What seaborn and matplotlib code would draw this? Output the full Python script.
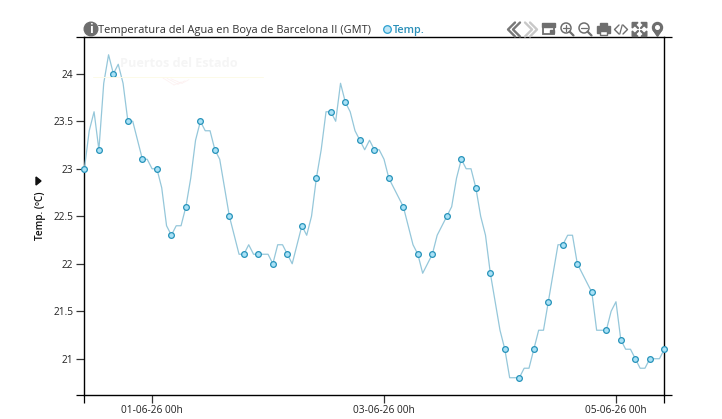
import numpy as np
import pandas as pd
import matplotlib
matplotlib.use("Agg")
import matplotlib.pyplot as plt
import matplotlib.dates as mdates
from matplotlib.patches import Circle, Rectangle, Polygon
from matplotlib.lines import Line2D
import seaborn as sns

# Hourly water temperature at the buoy (deg C)
temperature = [
    23.0, 23.4, 23.6, 23.2, 23.9, 24.2, 24.0, 24.1, 23.9, 23.5, 23.5, 23.3, 23.1,
    23.1, 23.0, 23.0, 22.8, 22.4, 22.3, 22.4, 22.4, 22.6, 22.9, 23.3, 23.5, 23.4,
    23.4, 23.2, 23.1, 22.8, 22.5, 22.3, 22.1, 22.1, 22.2, 22.1, 22.1, 22.1, 22.1,
    22.0, 22.2, 22.2, 22.1, 22.0, 22.2, 22.4, 22.3, 22.5, 22.9, 23.2, 23.6, 23.6,
    23.5, 23.9, 23.7, 23.6, 23.4, 23.3, 23.2, 23.3, 23.2, 23.2, 23.1, 22.9, 22.8,
    22.7, 22.6, 22.4, 22.2, 22.1, 21.9, 22.0, 22.1, 22.3, 22.4, 22.5, 22.6, 22.9,
    23.1, 23.0, 23.0, 22.8, 22.5, 22.3, 21.9, 21.6, 21.3, 21.1, 20.8, 20.8, 20.8,
    20.9, 20.9, 21.1, 21.3, 21.3, 21.6, 21.9, 22.2, 22.2, 22.3, 22.3, 22.0, 21.9,
    21.8, 21.7, 21.3, 21.3, 21.3, 21.5, 21.6, 21.2, 21.1, 21.1, 21.0, 20.9, 20.9,
    21.0, 21.0, 21.0, 21.1,
]
start_time = "2026-05-31 10:00"
marker_step = 3
y_ticks = [21, 21.5, 22, 22.5, 23, 23.5, 24]
y_tick_labels = ["21", "21.5", "22", "22.5", "23", "23.5", "24"]
date_ticks = ["2026-06-01", "2026-06-03", "2026-06-05"]
date_labels = ["01-06-26 00h", "03-06-26 00h", "05-06-26 00h"]
title_text = "Temperatura del Agua en Boya de Barcelona II (GMT)"
series_name = "Temp."
y_label = "Temp. (ºC)"
y_range = (20.615, 24.385)

sns.set_theme(style="white")
plt.rcParams["font.family"] = ["Open Sans", "DejaVu Sans"]

W, H = 722, 419
LINE = "#95c7da"
FACE = "#a9e1f6"
EDGE = "#2793ba"
TEXT = "#222222"
ICON = "#6e6e6e"

frame = pd.DataFrame({
    "time": pd.date_range(start_time, periods=len(temperature), freq="h"),
    "temp": temperature,
})
sampled = frame.iloc[::marker_step]

fig = plt.figure(figsize=(W / 100, H / 100), dpi=100, facecolor="white")
ax = fig.add_axes([84.4 / W, 1 - 395.3 / H, (664.3 - 84.4) / W, (395.3 - 37.2) / H])

# Faint institutional watermark behind the data
fig.text(178.5 / W, 1 - 63.5 / H, "Puertos del Estado", ha="center", va="center", fontsize=9.1,
         fontweight="bold", color="#f5f5f5")
fig.add_artist(Line2D([93 / W, 263 / W], [1 - 77.5 / H] * 2, color="#fcfae8", lw=0.7))
for off in (0, 4, 8):
    fig.add_artist(Line2D([(163 + off) / W, (174 + off) / W],
                          [1 - (78 + off * 0.1) / H, 1 - (85 - off * 0.2) / H],
                          color="#fdf0f0", lw=0.5))
    fig.add_artist(Line2D([(174 + off) / W, (181 + off) / W],
                          [1 - (85 - off * 0.2) / H, 1 - (82 - off * 0.3) / H],
                          color="#fdf0f0", lw=0.5))
ax.patch.set_alpha(0)

sns.lineplot(data=frame, x="time", y="temp", ax=ax, color=LINE, lw=0.9, clip_on=False, zorder=3)
sns.scatterplot(data=sampled, x="time", y="temp", ax=ax, s=17, color=FACE, edgecolor=EDGE,
                linewidth=0.9, clip_on=False, zorder=4)

ax.set_xlim(frame["time"].iloc[0], frame["time"].iloc[-1])
ax.set_ylim(*y_range)
ax.set_xlabel("")
ax.set_ylabel("")
ax.set_yticks(y_ticks, y_tick_labels)
ax.set_xticks(pd.to_datetime(date_ticks), date_labels)
ax.set_yticks(list(y_range), minor=True)
ax.set_xticks(mdates.date2num([frame["time"].iloc[0], frame["time"].iloc[-1]]), minor=True)
ax.tick_params(axis="both", which="major", length=6, width=0.9, color="#333333", labelsize=7.3,
               labelcolor=TEXT, left=True, bottom=True)
ax.tick_params(axis="y", which="major", pad=2)
ax.tick_params(axis="x", which="major", pad=1)
ax.tick_params(axis="both", which="minor", length=6, width=0.9, color="black", left=True, right=True,
               bottom=True)
for side in ax.spines.values():
    side.set_visible(True)
    side.set_color("black")
    side.set_linewidth(1.0)

# Rotated axis title with its small unit-toggle arrow
fig.text(40 / W, 1 - 216 / H, y_label, rotation=90, ha="center", va="center", fontsize=7.2,
         fontweight="semibold", color="#111111")

# Header row
fig.text(98 / W, 1 - 30.5 / H, title_text, ha="left", va="center", fontsize=7.95, color="#333333")
fig.text(393 / W, 1 - 30.5 / H, series_name, ha="left", va="center", fontsize=7.8, color="#2a8fb8",
         fontweight="semibold")

# Pixel-space overlay for the header icons
ov = fig.add_axes([0, 0, 1, 1], facecolor="none", zorder=10)
ov.set_xlim(0, W)
ov.set_ylim(H, 0)
ov.axis("off")

ov.add_patch(Polygon([(36, 177), (41, 181), (36, 185)], color="#111111"))
ov.add_patch(Circle((387.5, 29.5), 3.8, fc="#bfe6f6", ec="#2a9fd0", lw=0.9))

ov.add_patch(Circle((91, 29), 6.8, color=ICON))
ov.text(91, 29.3, "i", color="white", fontsize=9, fontweight="bold", ha="center", va="center")


def chevrons(x, direction, color):
    for dx in (0, 5):
        ov.add_line(Line2D([x + dx + 7 * direction, x + dx, x + dx + 7 * direction], [22.5, 29.5, 36.5],
                           color=color, lw=1.7))


chevrons(508, 1, "#777777")
chevrons(532, -1, "#c8c8c8")
ov.add_patch(Rectangle((542.8, 24.5), 11.5, 10, fc="white", ec=ICON, lw=1.3))
ov.add_patch(Rectangle((542, 23), 13, 4, color=ICON))
ov.add_patch(Rectangle((549.5, 30), 4, 3.5, color=ICON))
for cx, plus in ((566, True), (584, False)):
    ov.add_patch(Circle((cx, 28), 5, fc="none", ec=ICON, lw=1.1))
    ov.add_line(Line2D([cx + 3.6, cx + 7.5], [31.6, 35.5], color=ICON, lw=1.6))
    ov.add_line(Line2D([cx - 2.6, cx + 2.6], [28, 28], color=ICON, lw=0.9))
    if plus:
        ov.add_line(Line2D([cx, cx], [25.4, 30.6], color=ICON, lw=0.9))
ov.add_patch(Rectangle((599.5, 23), 7.5, 3, color=ICON))
ov.add_patch(Rectangle((596.5, 26.5), 13.5, 6.5, color=ICON))
ov.add_patch(Rectangle((599.5, 31), 7.5, 4.5, fc="white", ec=ICON, lw=1))
for dir_, x0 in ((-1, 619), (1, 623)):
    ov.add_line(Line2D([x0, x0 + dir_ * 4.5, x0], [25, 29.5, 34], color=ICON, lw=1))
ov.add_line(Line2D([619.8, 622.2], [34, 25], color=ICON, lw=0.9))
# Expand arrows
cx, cy = 639.5, 29.5
for sx, sy in ((-1, -1), (1, -1), (-1, 1), (1, 1)):
    ov.add_patch(Polygon([(cx + sx * 7.3, cy + sy * 7), (cx + sx * 1.5, cy + sy * 7),
                          (cx + sx * 7.3, cy + sy * 1.5)], color=ICON))
    ov.add_line(Line2D([cx + sx * 1.5, cx + sx * 5], [cy + sy * 1.5, cy + sy * 5], color=ICON, lw=1.6))
# Map pin
ov.add_patch(Circle((657.5, 27.5), 5, color=ICON))
ov.add_patch(Polygon([(653, 29.7), (662, 29.7), (657.5, 36.5)], color=ICON))
ov.add_patch(Circle((657.5, 27.5), 1.8, color="white"))

fig.savefig("out.png", dpi=100, facecolor="white")
